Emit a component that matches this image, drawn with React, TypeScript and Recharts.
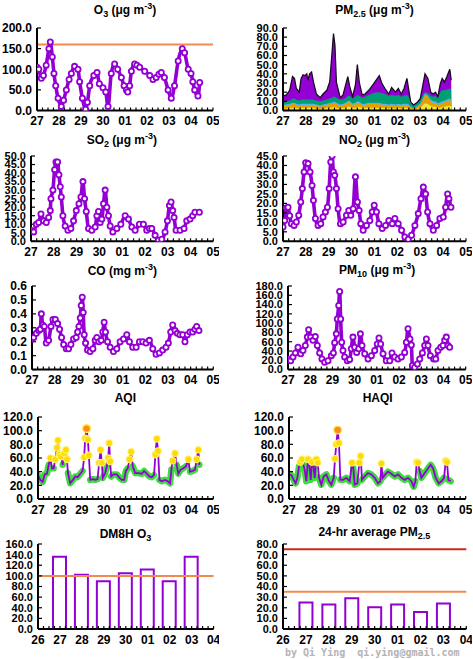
import React from 'react'
import { ComposedChart, Line, Area, Bar, XAxis, YAxis, ReferenceLine } from 'recharts'

// ── axis labels ────────────────────────────────────────────────────────────
const DAY_LABELS = ['27', '28', '29', '30', '01', '02', '03', '04', '05']
const BAR_DAY_LABELS = ['26', '27', '28', '29', '30', '01', '02', '03', '04']

const O3_TICKS = [0, 50, 100, 150, 200]
const PM25_TICKS = [0, 10, 20, 30, 40, 50, 60, 70, 80, 90]
const SO2_TICKS = [0, 5, 10, 15, 20, 25, 30, 35, 40, 45, 50]
const NO2_TICKS = [0, 5, 10, 15, 20, 25, 30, 35, 40, 45]
const CO_TICKS = [0, 0.1, 0.2, 0.3, 0.4, 0.5, 0.6]
const PM10_TICKS = [0, 20, 40, 60, 80, 100, 120, 140, 160, 180]
const AQI_TICKS = [0, 20, 40, 60, 80, 100, 120]
const DM8H_TICKS = [0, 20, 40, 60, 80, 100, 120, 140, 160]
const PMAVG_TICKS = [0, 10, 20, 30, 40, 50, 60, 70, 80]

// ── hourly series (hours since 27 00:00) ──────────────────────────────────
const o3Hours = [0, 2, 4.7, 7, 10, 13, 14.5, 16.7, 18.5, 20.4, 23, 26.5, 29, 32, 35, 37.5, 41, 44.7, 46.5, 49.5, 53, 55, 57.5, 62, 65.5, 68, 72, 75, 77.5, 81, 84.7, 88, 92, 95, 97.5, 99, 101, 103, 106.5, 109, 112, 117.5, 123, 126.5, 130, 133, 135.6, 139, 143, 146.5, 150, 154, 158.5, 161, 165, 168, 170, 172, 175.6, 177.5]
const o3Values = [105, 100, 78, 85, 110, 150, 166, 130, 90, 60, 30, 10, 25, 50, 75, 90, 107, 100, 70, 30, 3, 20, 60, 85, 92, 65, 55, 45, 10, 90, 113, 100, 80, 60, 50, 45, 60, 95, 113, 110, 105, 95, 85, 75, 80, 88, 92, 80, 50, 30, 60, 120, 150, 140, 100, 90, 70, 50, 35, 68]

const pmHours = [0, 3.5, 7, 10, 12, 14, 17, 19, 21, 23, 25, 26, 28, 30, 32, 35, 39, 42, 46, 49, 51, 53, 54.5, 56, 60, 63, 66, 68, 70, 73, 76, 78, 80, 83, 86, 90, 95, 99, 101, 104, 107, 111, 114, 118, 121, 124, 127, 130, 132, 134, 137, 141, 144, 147, 149, 152, 155, 157.5, 160, 162.5, 165, 167, 169.5, 172, 175, 176.5]
const pmTotal = [16, 17, 22, 37, 35, 24, 20, 35, 39, 38, 40, 33, 40, 42, 31, 18, 14, 18, 22, 31, 57, 84, 71, 31, 14, 17, 29, 37, 26, 15, 28, 50, 31, 17, 18, 22, 29, 35, 38, 29, 24, 18, 25, 20, 24, 18, 24, 35, 22, 9, 6, 9, 13, 29, 40, 35, 20, 18, 20, 15, 29, 35, 31, 37, 45, 33]
const pmGreenTop = [9, 10, 11, 13, 13, 12, 11, 12, 12, 12, 12, 12, 12, 12, 12, 11, 10, 11, 12, 13, 14, 15, 15, 14, 12, 12, 14, 16, 16, 13, 15, 17, 16, 14, 15, 17, 19, 20, 20, 19, 18, 16, 17, 16, 17, 15, 16, 17, 15, 8, 5, 8, 11, 18, 20, 19, 16, 15, 16, 13, 20, 22, 22, 23, 24, 22]
const pmBlueTop = [6.5, 6.5, 7.5, 8.5, 8.5, 7.5, 6.5, 7.5, 7.5, 7.5, 7.5, 7.5, 7.5, 7.5, 7.5, 6.5, 5.5, 6.5, 7.5, 8.5, 8.5, 9.5, 9.5, 8.5, 6.5, 7.5, 8.5, 10.5, 10.5, 7.5, 8.5, 10.5, 9.5, 7.5, 7.5, 8.5, 8.5, 8.5, 8.5, 7.5, 7.5, 6.5, 7.5, 6.5, 7.5, 6.5, 7.5, 7.5, 6.5, 4, 2.5, 5, 7.5, 14, 18.5, 16.5, 12, 10, 10, 8, 9, 10, 11, 12, 13, 12]
const pmOrangeTop = [5, 5, 6, 7, 7, 6, 5, 6, 6, 6, 6, 6, 6, 6, 6, 5, 4, 5, 6, 7, 7, 8, 8, 7, 5, 6, 7, 9, 9, 6, 7, 9, 8, 6, 6, 7, 7, 7, 7, 6, 6, 5, 6, 5, 6, 5, 6, 6, 5, 3, 2, 4, 6, 12, 17, 15, 10, 8, 8, 6, 7, 8, 9, 10, 11, 10]
const pmYellowTop = [2, 2, 3, 3, 3, 3, 2, 3, 3, 3, 3, 3, 3, 3, 3, 2, 2, 2, 3, 3, 3, 4, 4, 3, 2, 3, 3, 4, 4, 3, 3, 4, 4, 3, 3, 3, 3, 3, 3, 3, 3, 2, 3, 2, 3, 2, 3, 3, 2, 1, 1, 2, 3, 6, 8, 7, 5, 4, 4, 3, 3, 4, 4, 5, 5, 5]

const so2Hours = [0, 2.8, 5.6, 8.1, 10.5, 13.3, 16.1, 18.6, 20.3, 21, 23.1, 24.9, 26.3, 28, 29.4, 30.8, 31.9, 33.6, 36, 38.9, 42, 44.8, 47.7, 50.5, 52.6, 54.7, 56.4, 58.2, 60.6, 64.1, 67.6, 69.4, 71.1, 72.9, 74.6, 76.4, 78.1, 79.9, 81.6, 83.4, 86.2, 90.4, 94.6, 99.2, 102.7, 106.2, 109.7, 114.2, 118.4, 121.9, 124.7, 127.2, 130.7, 134.2, 137.7, 141.2, 143.7, 145.8, 147.5, 149.3, 150.7, 152.8, 157, 161.2, 164, 167.5, 170.3, 172.7, 177.3]
const so2Values = [6.4, 5.5, 10, 11, 16, 12, 11, 14, 18, 25, 30, 42, 46.5, 46.5, 39, 32, 26, 15, 9, 6.5, 7.5, 12, 18, 22, 26, 35, 25, 17.5, 7.5, 6.5, 8.4, 15, 17.5, 11, 13, 22, 30, 20, 15, 9, 5.5, 7.5, 10, 15, 13, 8.4, 6.5, 10, 10, 6.5, 7.5, 7.5, 3.5, 0.6, 1.2, 5.5, 12, 21, 23, 18, 14, 6.5, 6.5, 7.5, 12, 13, 15, 17, 17]

const no2Hours = [0, 1.8, 3.5, 5.3, 7, 8.8, 11.6, 14, 16.5, 18.6, 20.3, 22.1, 23.8, 26.3, 28.4, 30.5, 31.9, 34, 36.8, 39.6, 42, 44.5, 46.6, 48.4, 50.1, 51.5, 52.9, 54.3, 56.1, 57.8, 60.3, 63.1, 66.6, 69, 71.1, 73.6, 76, 78.1, 79.9, 81.6, 84.1, 87.6, 91.1, 93.6, 95.7, 98.1, 100.6, 104.1, 107.6, 111.1, 114.6, 117.4, 120.9, 124.4, 127.9, 131.4, 134.9, 138.4, 141.9, 144.7, 147.2, 149.6, 151.7, 154.2, 157.7, 161.2, 164.6, 168.2, 170.6, 172.7, 174.1, 176.2]
const no2Values = [7.6, 11, 17.6, 18, 13.5, 9.3, 8.4, 10.2, 13.7, 20.7, 27.8, 36.6, 41.5, 41, 36.6, 29.5, 21.6, 12, 8.4, 9.3, 12.8, 15.5, 18, 27.8, 41.8, 45, 36.6, 34.8, 27.8, 17.2, 9.3, 10.2, 13.7, 16.3, 13.7, 17.2, 34, 20.7, 16.3, 9.3, 5.8, 8.4, 11, 15.5, 19, 15.5, 9.3, 6.7, 8.4, 11, 9.3, 12, 9.3, 5.8, 2.3, 1.1, 3.2, 8.4, 14.6, 22.5, 28.6, 25, 15.5, 9.3, 5.8, 8.4, 12, 12.8, 18, 25, 22.5, 18]

const coHours = [0, 1.8, 4.6, 7, 8.8, 9.9, 11.3, 13, 15.1, 17.6, 20.1, 22.2, 24.7, 27.1, 29.2, 31.3, 33.5, 36.3, 38.7, 41.2, 44, 46.8, 48.3, 49.7, 51.1, 52.1, 53.2, 54.2, 55.3, 56.7, 58.8, 61.6, 64.5, 66.9, 68.7, 70.8, 73.3, 75, 76.4, 77.8, 80, 82.8, 86.3, 89.8, 93.3, 96.9, 100.4, 103.2, 106.7, 110.3, 113.8, 117.3, 120.8, 124.3, 127.9, 131.4, 134.9, 138.4, 141.9, 144.4, 146.9, 149, 151.5, 153.9, 156.7, 159.6, 162, 164.5, 167.3, 170.1, 172.6, 174.4, 176.8]
const coValues = [0.22, 0.23, 0.26, 0.28, 0.29, 0.4, 0.32, 0.31, 0.19, 0.21, 0.31, 0.36, 0.36, 0.33, 0.29, 0.23, 0.18, 0.15, 0.15, 0.18, 0.22, 0.23, 0.27, 0.31, 0.37, 0.46, 0.52, 0.41, 0.25, 0.19, 0.14, 0.13, 0.15, 0.21, 0.23, 0.2, 0.21, 0.27, 0.34, 0.27, 0.2, 0.16, 0.13, 0.15, 0.2, 0.22, 0.25, 0.2, 0.16, 0.16, 0.2, 0.2, 0.19, 0.21, 0.15, 0.11, 0.12, 0.14, 0.16, 0.19, 0.27, 0.32, 0.28, 0.26, 0.25, 0.25, 0.2, 0.25, 0.27, 0.27, 0.29, 0.31, 0.28]

const pm10Hours = [0.7, 2.9, 5.4, 7.9, 10.8, 13.7, 16.2, 18.7, 20.9, 22.3, 24.5, 27, 29.5, 31.7, 34.2, 36.7, 39.6, 43.2, 46.8, 49, 50.4, 52.2, 53.3, 54.8, 55.8, 56.9, 58, 59.4, 61.2, 64.1, 66.6, 68.4, 70.2, 72, 74.2, 76.4, 78.2, 80, 82.9, 86.5, 90.1, 93.7, 96.5, 98.3, 100.1, 102.7, 106.2, 109.9, 112.4, 115.3, 118.9, 122.5, 126.1, 127.9, 129.7, 131.8, 133.3, 134.4, 136.9, 139.8, 142.3, 145.2, 147.7, 149.5, 151.3, 153.8, 157.4, 159.6, 162.1, 165, 167.5, 169.3, 171.1, 172.9, 174.7]
const pm10Values = [22, 19, 27, 36, 48, 34, 41, 52, 70, 86, 70, 63, 71, 52, 36, 23, 16, 19, 30, 36, 58, 77, 109, 138, 168, 109, 59, 41, 27, 19, 22, 45, 70, 48, 37, 45, 77, 52, 34, 23, 30, 41, 55, 68, 55, 34, 19, 19, 36, 27, 23, 27, 37, 59, 88, 66, 53, 9, 5, 12, 23, 36, 52, 66, 52, 30, 23, 23, 41, 48, 52, 63, 70, 52, 48]

const aqiHours = [0, 2.6, 5.1, 7.3, 9.8, 11.7, 13.5, 15.3, 17.1, 18.9, 20.8, 21.9, 23.3, 25.1, 27, 28.8, 30.6, 31.7, 32.8, 35.3, 38.3, 40.8, 43.4, 46.3, 48.8, 50.6, 51.7, 53.2, 54.6, 55.7, 57.2, 60.1, 62.7, 65.2, 67, 68.5, 69.9, 71, 73.6, 75.4, 76.9, 78, 79, 80.1, 82.7, 86.3, 89.3, 91.8, 94.4, 96.2, 98.4, 100.2, 102, 103.8, 106.4, 110, 113.7, 116.2, 119.1, 122, 124.6, 127.1, 128.6, 130.1, 131.5, 133, 135.5, 139.2, 142.1, 144.6, 146.1, 147.5, 150.1, 151.9, 153.7, 156.3, 159.2, 162.1, 164.7, 166.5, 169.4, 171.9, 173.8, 175.6, 176.7]
const aqiValues = [35, 28, 25, 36, 37, 50, 60, 45, 45, 58, 75, 86, 65, 62, 50, 67, 72, 58, 38, 23, 28, 33, 32, 37, 41, 61, 89, 103, 87, 64, 28, 29, 28, 29, 53, 72, 53, 31, 38, 48, 60, 82, 55, 33, 36, 36, 31, 28, 28, 41, 45, 58, 69, 48, 38, 38, 37, 41, 37, 33, 32, 35, 65, 88, 70, 28, 26, 28, 26, 23, 43, 56, 67, 50, 37, 43, 45, 48, 58, 40, 41, 43, 58, 72, 50]

const haqiHours = [0, 2.5, 5.1, 7.2, 9.1, 10.9, 12.3, 14.1, 15.6, 17, 18.8, 20.7, 22.1, 23.6, 25, 26.4, 27.9, 29.7, 31.2, 32.6, 35.1, 37.7, 40.6, 43.5, 46, 48.6, 50, 51.4, 52.9, 54.3, 55.8, 58.7, 62.3, 65.9, 68.5, 69.9, 71.4, 74.3, 76.4, 77.9, 79.3, 82.2, 85.9, 89.5, 93.1, 96.7, 99.3, 100.4, 101.8, 104.7, 107.6, 111.2, 114.9, 118.5, 122.1, 125.7, 129.3, 133, 135.5, 137.3, 138.8, 140.2, 142, 143.8, 147.5, 151.1, 154, 156.5, 159.4, 162.7, 165.6, 168.5, 170.3, 171.7, 173.2, 175.7]
const haqiValues = [36, 35, 28, 23, 31, 48, 54, 58, 50, 43, 26, 58, 50, 28, 54, 50, 31, 58, 53, 31, 21, 33, 36, 26, 21, 31, 59, 80, 101, 82, 28, 28, 31, 26, 53, 45, 21, 23, 53, 63, 28, 33, 38, 36, 31, 23, 26, 52, 31, 36, 40, 37, 33, 36, 31, 28, 31, 26, 18, 26, 54, 53, 41, 31, 38, 45, 50, 45, 31, 23, 26, 31, 56, 54, 28, 26]

// ── daily bars (x = day index on the 26..04 axis) ─────────────────────────
const barDays = [1, 2, 3, 4, 5, 6, 7]
const dm8hValues = [136, 102, 90, 105, 112, 90, 136]
const pmAvgValues = [25, 23, 29, 20.5, 23, 16, 24]

const PURPLE = '#9400d3'
const FONT = '"Liberation Sans", Arial, sans-serif'
const TICK = { fontSize: 12, fontWeight: 700, fill: '#000', fontFamily: FONT }
const TICK_DENSE = { fontSize: 11, fontWeight: 700, fill: '#000', fontFamily: FONT }
const AXIS_LINE = { stroke: '#000', strokeWidth: 2 }
const TICK_LINE = { stroke: '#000', strokeWidth: 1.2 }

const PAD_L = 44, PAD_T = 6, PAD_R = 6, PAD_B = 26

const HOUR_TICKS = Array.from({ length: 33 }, (_, i) => i * 6)
const QUARTER_TICKS = Array.from({ length: 33 }, (_, i) => i * 0.25)

type Box = { l: number; t: number; r: number; b: number }

const BOX = {
  o3: { l: 37, t: 27.5, r: 213, b: 110 },
  pm25: { l: 283, t: 27.5, r: 466, b: 110 },
  so2: { l: 30.7, t: 155.7, r: 213, b: 241 },
  no2: { l: 283, t: 155.7, r: 466, b: 241 },
  co: { l: 31.7, t: 285.7, r: 213, b: 369.3 },
  pm10: { l: 288.3, t: 285.7, r: 466, b: 369.3 },
  aqi: { l: 37.7, t: 417.3, r: 213, b: 499.3 },
  haqi: { l: 289.3, t: 417.3, r: 466, b: 499.3 },
  dm8h: { l: 37.7, t: 544, r: 213.3, b: 629 },
  pmAvg: { l: 282.7, t: 544, r: 466, b: 629 },
}

const dayFmt = (v: number) => (v % 24 === 0 ? DAY_LABELS[v / 24] : '')
const barDayFmt = (v: number) => (Number.isInteger(v) ? BAR_DAY_LABELS[v] : '')

function frameAxes(xDomain: [number, number], xTicks: number[], xFmt: (v: number) => string, yTicks: number[]) {
  const yDomain: [number, number] = [yTicks[0], yTicks[yTicks.length - 1]]
  const box = (yTicks.length > 8) ? TICK_DENSE : TICK
  return [
    <XAxis key="xb" type="number" dataKey="x" domain={xDomain} ticks={xTicks} tickFormatter={xFmt} interval={0}
      allowDataOverflow height={PAD_B} tickSize={-3} tickMargin={9} tick={TICK} axisLine={AXIS_LINE} tickLine={TICK_LINE} />,
    <XAxis key="xt" xAxisId="t" orientation="top" type="number" dataKey="x" domain={xDomain} ticks={xTicks} interval={0}
      allowDataOverflow height={0} tickSize={-3} tick={false} axisLine={AXIS_LINE} tickLine={TICK_LINE} />,
    <YAxis key="yl" type="number" domain={yDomain} ticks={yTicks} interval={0} allowDataOverflow width={PAD_L}
      tickSize={-4} tickMargin={9} tick={box} tickFormatter={(v: number) => v.toFixed(1)} axisLine={AXIS_LINE} tickLine={TICK_LINE} />,
    <YAxis key="yr" yAxisId="r" orientation="right" type="number" domain={yDomain} ticks={yTicks} interval={0} allowDataOverflow
      width={0} tickSize={-4} tick={false} axisLine={AXIS_LINE} tickLine={TICK_LINE} />,
  ]
}

function Panel({ box, data, children }: { box: Box; data: any[]; children: React.ReactNode }) {
  const w = box.r - box.l
  const h = box.b - box.t
  return (
    <div style={{ position: 'absolute', left: box.l - PAD_L, top: box.t - PAD_T }}>
      <ComposedChart width={w + PAD_L + PAD_R} height={h + PAD_T + PAD_B} data={data}
        margin={{ top: PAD_T, right: PAD_R, bottom: 0, left: 0 }}>
        {children}
      </ComposedChart>
    </div>
  )
}

function Title({ box, y, children }: { box: Box; y: number; children: React.ReactNode }) {
  return (
    <div style={{
      position: 'absolute', left: box.l, width: box.r - box.l, top: y - 8, height: 16, lineHeight: '16px',
      textAlign: 'center', fontSize: 12, fontWeight: 700, whiteSpace: 'nowrap',
    }}>
      {children}
    </div>
  )
}

const Sub = ({ children }: { children: React.ReactNode }) => <span style={{ fontSize: 9, verticalAlign: '-3px', lineHeight: 0 }}>{children}</span>
const Sup = ({ children }: { children: React.ReactNode }) => <span style={{ fontSize: 9, verticalAlign: '5px', lineHeight: 0 }}>{children}</span>

const series = (hours: number[], values: number[]) => hours.map((x, i) => ({ x, v: values[i] }))

const OPEN_DOT = { r: 2.6, stroke: PURPLE, strokeWidth: 1.8, fill: '#fff' }

function pollutant(box: Box, hours: number[], values: number[], yTicks: number[], extra?: React.ReactNode) {
  return (
    <Panel box={box} data={series(hours, values)}>
      {frameAxes([0, 192], HOUR_TICKS, dayFmt, yTicks)}
      {extra}
      <Line type="monotone" dataKey="v" stroke={PURPLE} strokeWidth={3.6} dot={OPEN_DOT} activeDot={false} isAnimationActive={false} />
    </Panel>
  )
}

// AQI category markers: green ≤50 (drawn as band), yellow 51-100, orange >100
function aqiDot(props: any) {
  const { cx, cy, payload, index } = props
  if (cx == null || cy == null) return <g key={index} />
  const v = payload.v
  if (v > 100) {
    return (
      <g key={index}>
        <circle cx={cx} cy={cy} r={4.6} fill="#ffe94a" />
        <circle cx={cx} cy={cy} r={3.2} fill="#ff8a1e" />
      </g>
    )
  }
  if (v > 50) {
    return (
      <g key={index}>
        <circle cx={cx} cy={cy} r={3.8} fill="#fff27a" />
        <circle cx={cx} cy={cy} r={2.8} fill="#ffdc00" />
      </g>
    )
  }
  return <g key={index} />
}

function indexPanel(box: Box, hours: number[], values: number[]) {
  const data = hours.map((x, i) => ({ x, v: values[i], g: values[i] <= 50 ? values[i] : null }))
  return (
    <Panel box={box} data={data}>
      {frameAxes([0, 192], HOUR_TICKS, dayFmt, AQI_TICKS)}
      <Line type="linear" dataKey="g" stroke="#3ddc3d" strokeWidth={6.5} strokeLinecap="round" strokeLinejoin="round"
        dot={false} activeDot={false} connectNulls={false} isAnimationActive={false} />
      <Line type="linear" dataKey="v" stroke={PURPLE} strokeWidth={1.8} dot={aqiDot} activeDot={false} isAnimationActive={false} />
    </Panel>
  )
}

function barPanel(box: Box, values: number[], yTicks: number[], refs: { y: number; color: string }[]) {
  const data = barDays.map((x, i) => ({ x, v: values[i] }))
  return (
    <Panel box={box} data={data}>
      {frameAxes([0, 8], QUARTER_TICKS, barDayFmt, yTicks)}
      <Bar dataKey="v" barSize={13} fill="#fff" stroke={PURPLE} strokeWidth={2} isAnimationActive={false} />
      {refs.map(r => (
        <ReferenceLine key={r.y} y={r.y} stroke={r.color} strokeWidth={2} />
      ))}
    </Panel>
  )
}

export default function App() {
  const pmData = pmHours.map((x, i) => ({
    x, total: pmTotal[i], green: pmGreenTop[i], blue: pmBlueTop[i], orange: pmOrangeTop[i], yellow: pmYellowTop[i],
  }))

  return (
    <div style={{ position: 'absolute', left: 0, top: 0, width: 473, height: 659, background: '#fff', fontFamily: FONT, overflow: 'hidden' }}>
      <Title box={BOX.o3} y={10}>O<Sub>3</Sub> (μg m<Sup>-3</Sup>)</Title>
      {pollutant(BOX.o3, o3Hours, o3Values, O3_TICKS,
        <ReferenceLine y={160} stroke="#f08a50" strokeWidth={2} />)}

      <Title box={BOX.pm25} y={10}>PM<Sub>2.5</Sub> (μg m<Sup>-3</Sup>)</Title>
      <Panel box={BOX.pm25} data={pmData}>
        {frameAxes([0, 192], HOUR_TICKS, dayFmt, PM25_TICKS)}
        <Area type="linear" dataKey="total" fill={PURPLE} fillOpacity={1} stroke="#1a0a20" strokeWidth={1.3} dot={false} activeDot={false} isAnimationActive={false} />
        <Area type="linear" dataKey="green" fill="#009e73" fillOpacity={1} stroke="none" dot={false} activeDot={false} isAnimationActive={false} />
        <Area type="linear" dataKey="blue" fill="#56b4e9" fillOpacity={1} stroke="none" dot={false} activeDot={false} isAnimationActive={false} />
        <Area type="linear" dataKey="orange" fill="#e69f00" fillOpacity={1} stroke="none" dot={false} activeDot={false} isAnimationActive={false} />
        <Area type="linear" dataKey="yellow" fill="#f0e442" fillOpacity={1} stroke="none" dot={false} activeDot={false} isAnimationActive={false} />
      </Panel>

      <Title box={BOX.so2} y={140}>SO<Sub>2</Sub> (μg m<Sup>-3</Sup>)</Title>
      {pollutant(BOX.so2, so2Hours, so2Values, SO2_TICKS)}

      <Title box={BOX.no2} y={140}>NO<Sub>2</Sub> (μg m<Sup>-3</Sup>)</Title>
      {pollutant(BOX.no2, no2Hours, no2Values, NO2_TICKS)}

      <Title box={BOX.co} y={271}>CO (mg m<Sup>-3</Sup>)</Title>
      {pollutant(BOX.co, coHours, coValues, CO_TICKS)}

      <Title box={BOX.pm10} y={270}>PM<Sub>10</Sub> (μg m<Sup>-3</Sup>)</Title>
      {pollutant(BOX.pm10, pm10Hours, pm10Values, PM10_TICKS)}

      <Title box={BOX.aqi} y={398}>AQI</Title>
      {indexPanel(BOX.aqi, aqiHours, aqiValues)}

      <Title box={BOX.haqi} y={398}>HAQI</Title>
      {indexPanel(BOX.haqi, haqiHours, haqiValues)}

      <Title box={BOX.dm8h} y={534}>DM8H O<Sub>3</Sub></Title>
      {barPanel(BOX.dm8h, dm8hValues, DM8H_TICKS, [{ y: 100, color: '#f08a50' }])}

      <Title box={BOX.pmAvg} y={532}>24-hr average PM<Sub>2.5</Sub></Title>
      {barPanel(BOX.pmAvg, pmAvgValues, PMAVG_TICKS, [{ y: 75, color: '#c8281e' }, { y: 35, color: '#f08a50' }])}

      <div style={{
        position: 'absolute', left: 285, top: 647, fontFamily: '"DejaVu Sans Mono", monospace', fontSize: 10,
        color: '#b4b4b4', fontWeight: 700, whiteSpace: 'pre',
      }}>
        by Qi Ying  qi.ying@gmail.com
      </div>
    </div>
  )
}
